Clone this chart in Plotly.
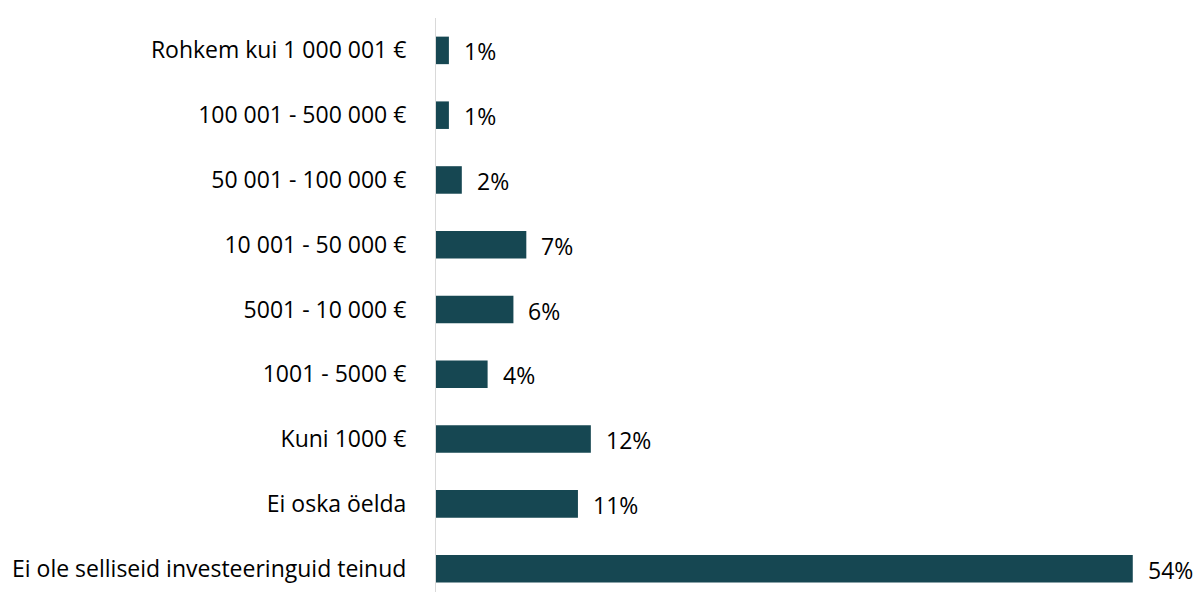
import plotly.graph_objects as go

categories = [
    "Ei ole selliseid investeeringuid teinud",
    "Ei oska öelda",
    "Kuni 1000 €",
    "1001 - 5000 €",
    "5001 - 10 000 €",
    "10 001 - 50 000 €",
    "50 001 - 100 000 €",
    "100 001 - 500 000 €",
    "Rohkem kui 1 000 001 €",
]
values = [54, 11, 12, 4, 6, 7, 2, 1, 1]
value_labels = [f"{v}%" for v in values]

BAR = "#164752"
FONT = "Open Sans, sans-serif"
FS = 23

fig = go.Figure()
fig.add_trace(go.Bar(
    y=categories, x=values, orientation="h",
    marker=dict(color=BAR, line=dict(width=0)),
    hoverinfo="skip",
))
for c, v, t in zip(categories, values, value_labels):
    fig.add_annotation(x=v, y=c, text=t, showarrow=False, xanchor="left",
                       xshift=13, yshift=-1, font=dict(family=FONT, size=FS, color="#000000"))

fig.update_layout(
    width=1196, height=592,
    margin=dict(l=436, r=0, t=18, b=0),
    paper_bgcolor="white", plot_bgcolor="white",
    showlegend=False, bargap=0.575,
    font=dict(family=FONT, size=FS, color="#000000"),
)
fig.update_xaxes(range=[0, 58.9], visible=False, showgrid=False, zeroline=False)
fig.update_yaxes(
    type="category", categoryorder="array", categoryarray=categories,
    range=[-0.36, 8.5], showline=True, linecolor="#d9d9d9", linewidth=1,
    showgrid=False, zeroline=False, ticks="", ticklabelstandoff=24,
    tickfont=dict(family=FONT, size=FS, color="#000000"),
)
fig.write_html(
    "out.html",
    config={"displayModeBar": False},
    post_script="document.body.style.margin='0';document.body.style.overflow='hidden';",
)
